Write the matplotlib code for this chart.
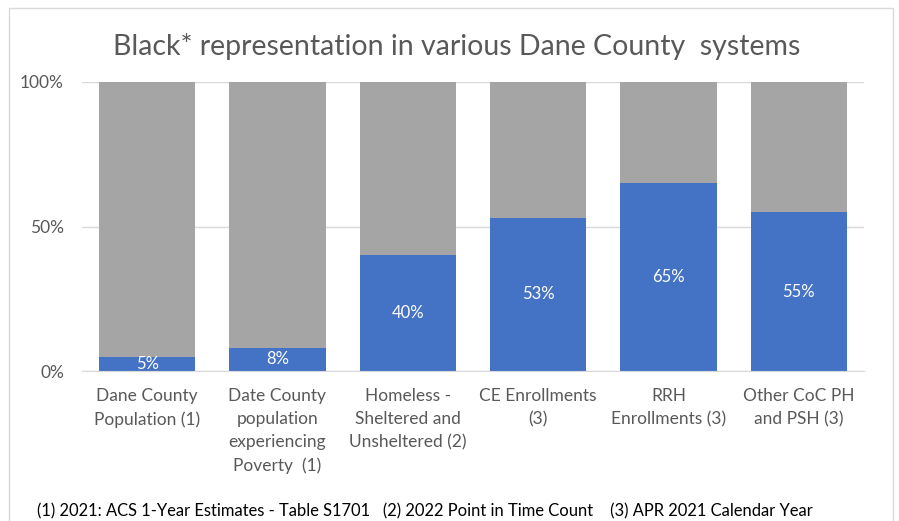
import matplotlib.pyplot as plt
from matplotlib.patches import Rectangle
from matplotlib.ticker import FuncFormatter

plt.rcParams['font.family'] = ['Lato', 'DejaVu Sans']

categories = ["Dane County\nPopulation (1)",
              "Date County\npopulation\nexperiencing\nPoverty  (1)",
              "Homeless -\nSheltered and\nUnsheltered (2)",
              "CE Enrollments\n(3)",
              "RRH\nEnrollments (3)",
              "Other CoC PH\nand PSH (3)"]
black_pct = [5, 8, 40, 53, 65, 55]
other_pct = [100 - v for v in black_pct]

blue = "#4472C4"
grey = "#A5A5A5"
text_grey = "#595959"

fig = plt.figure(figsize=(8.99, 5.21), dpi=100)
fig.patches.append(Rectangle((9 / 899, -0.1), 884 / 899, 1.1 - 8 / 521,
                             transform=fig.transFigure, fill=False,
                             edgecolor="#D9D9D9", linewidth=1))

ax = fig.add_axes([82 / 899, 150 / 521, 782 / 899, 289 / 521])
x = list(range(len(categories)))
ax.bar(x, black_pct, width=0.74, color=blue, zorder=2)
ax.bar(x, other_pct, width=0.74, bottom=black_pct, color=grey, zorder=2)

for xi, v in zip(x, black_pct):
    ax.text(xi, v / 2, f"{v}%", ha="center", va="center", color="white",
            fontsize=12, zorder=3)

ax.set_xlim(-0.5, len(categories) - 0.5)
ax.set_ylim(0, 100)
ax.set_yticks([0, 50, 100])
ax.yaxis.set_major_formatter(FuncFormatter(lambda v, p: f"{v:.0f}%"))
ax.yaxis.grid(True, color="#D9D9D9", linewidth=1, zorder=0)
ax.set_xticks(x)
ax.tick_params(axis="both", length=0, colors=text_grey, labelsize=12.5)
ax.tick_params(axis="x", pad=12)
ax.tick_params(axis="y", pad=13)
ax.set_xticklabels(categories, fontsize=12.5, color=text_grey, linespacing=1.55)
for s in ["top", "right", "left"]:
    ax.spines[s].set_visible(False)
ax.spines["bottom"].set_color("#D9D9D9")

fig.text(457 / 899, 1 - 46 / 521, "Black* representation in various Dane County  systems",
         ha="center", va="center", fontsize=20.5, color=text_grey)
fig.text(37 / 899, 1 - 511 / 521,
         "(1) 2021: ACS 1-Year Estimates - Table S1701   (2) 2022 Point in Time Count    (3) APR 2021 Calendar Year",
         ha="left", va="center", fontsize=11.9, color="black")

fig.savefig("out.png", dpi=100)
